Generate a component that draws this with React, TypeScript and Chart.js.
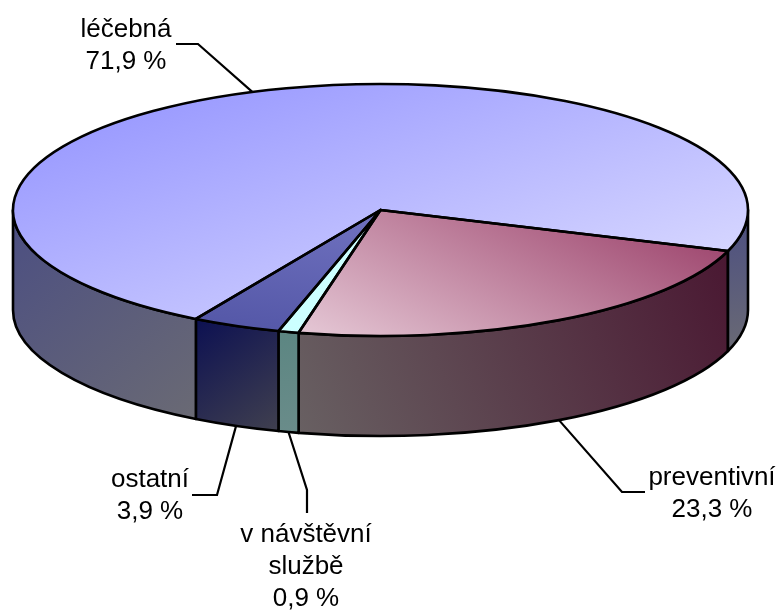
import React, { useEffect, useRef } from "react";
import { Chart, registerables } from "chart.js";

Chart.register(...registerables);

// ---- data ----
const categories = ["preventivní", "v návštěvní službě", "ostatní", "léčebná"];
const values = [23.3, 0.9, 3.9, 71.9];
const nameLines = [["preventivní"], ["v návštěvní", "službě"], ["ostatní"], ["léčebná"]];
const startRotation = 109; // degrees, chart.js rotation

// ---- geometry / style ----
const G = { cx: 380.5, cy: 210, rx: 367.5, ry: 126, depth: 100 };
const FONT = "26px 'Liberation Sans', Arial, sans-serif";
const LINE_H = 32;
const EDGE_W = 2.6;

const topStops = [
  ["#e4c6d4", "#9e466e"],
  ["#ccffff", "#ccffff"],
  ["#5558a8", "#6e70be"],
  ["#9797ff", "#e0e0ff"],
];
const topGradPts = [
  [310, 335, 722, 240],
  [280, 330, 380, 210],
  [200, 320, 330, 215],
  [90, 100, 720, 320],
];
const wallStops = [
  ["#686062", "#4a1832"],
  ["#5c8682", "#6a8c8a"],
  ["#0c1052", "#40404f"],
  ["#4b4e82", "#6a6a74"],
];
// 1: bottom-left -> top-right, 0: top-left -> bottom-right
const wallDir = [1, 0, 0, 0];

const labelLayout = [
  { tx: 712, base: 485, elbow: [622, 492], end: [645, 492] },
  { tx: 306, base: 542, elbow: [307, 490], end: [307, 513] },
  { tx: 150, base: 487, elbow: [217, 495], end: [192, 495] },
  { tx: 126, base: 37, elbow: [198, 44], end: [176, 44] },
];

const fmt = (v: number) => v.toFixed(1).replace(".", ",") + " %";

function pt(t: number, dy = 0): [number, number] {
  return [G.cx + G.rx * Math.cos(t), G.cy + G.ry * Math.sin(t) + dy];
}

function topFill(c: any) {
  const chart = c.chart;
  const ca = chart.chartArea;
  const i = c.dataIndex;
  if (!ca) return topStops[i][0];
  const ax = (ca.left + ca.right) / 2;
  const ay = (ca.top + ca.bottom) / 2;
  const r = Math.min(ca.right - ca.left, ca.bottom - ca.top) / 2;
  const map = (X: number, Y: number) => [ax + ((X - G.cx) * r) / G.rx, ay + ((Y - G.cy) * r) / G.ry];
  const [x0, y0, x1, y1] = topGradPts[i];
  const p0 = map(x0, y0);
  const p1 = map(x1, y1);
  const g = chart.ctx.createLinearGradient(p0[0], p0[1], p1[0], p1[1]);
  g.addColorStop(0, topStops[i][0]);
  g.addColorStop(1, topStops[i][1]);
  return g;
}

function drawWall(ctx: CanvasRenderingContext2D, a: number, b: number, i: number) {
  const [xa, ya] = pt(a);
  const [xb, yb] = pt(b);
  ctx.beginPath();
  ctx.ellipse(G.cx, G.cy, G.rx, G.ry, 0, a, b);
  ctx.lineTo(xb, yb + G.depth);
  ctx.ellipse(G.cx, G.cy + G.depth, G.rx, G.ry, 0, b, a, true);
  ctx.closePath();
  const minX = Math.min(xa, xb);
  const maxX = Math.max(xa, xb);
  const topY = Math.min(ya, yb);
  const botY = Math.max(ya, yb) + G.depth;
  const g =
    wallDir[i] === 1
      ? ctx.createLinearGradient(minX, botY, maxX, topY)
      : ctx.createLinearGradient(minX, topY, maxX, botY);
  g.addColorStop(0, wallStops[i][0]);
  g.addColorStop(1, wallStops[i][1]);
  ctx.fillStyle = g;
  ctx.fill();
  ctx.lineWidth = EDGE_W;
  ctx.strokeStyle = "#000";
  ctx.lineJoin = "round";
  ctx.stroke();
}

const pie3d = {
  id: "pie3d",
  beforeDatasetsDraw(chart: any) {
    const ctx: CanvasRenderingContext2D = chart.ctx;
    const arcs = chart.getDatasetMeta(0).data;
    arcs.forEach((el: any, i: number) => {
      const s = el.startAngle;
      const e = el.endAngle;
      for (let k = -1; k <= 1; k++) {
        const a = Math.max(s, 2 * Math.PI * k);
        const b = Math.min(e, 2 * Math.PI * k + Math.PI);
        if (b > a) drawWall(ctx, a, b, i);
      }
    });
    const a0 = arcs[0];
    ctx.save();
    ctx.translate(G.cx, G.cy);
    ctx.scale(G.rx / a0.outerRadius, G.ry / a0.outerRadius);
    ctx.translate(-a0.x, -a0.y);
  },
  afterDatasetsDraw(chart: any) {
    const ctx: CanvasRenderingContext2D = chart.ctx;
    ctx.restore();
    const arcs = chart.getDatasetMeta(0).data;
    ctx.save();
    ctx.lineWidth = EDGE_W;
    ctx.strokeStyle = "#000";
    ctx.lineJoin = "round";
    arcs.forEach((el: any) => {
      const s = el.startAngle;
      const e = el.endAngle;
      const [xs, ys] = pt(s);
      ctx.beginPath();
      ctx.moveTo(G.cx, G.cy);
      ctx.lineTo(xs, ys);
      ctx.ellipse(G.cx, G.cy, G.rx, G.ry, 0, s, e);
      ctx.closePath();
      ctx.stroke();
    });
    // labels
    ctx.font = FONT;
    ctx.fillStyle = "#000";
    ctx.textAlign = "center";
    ctx.textBaseline = "alphabetic";
    ctx.lineWidth = 2.2;
    arcs.forEach((el: any, i: number) => {
      const mid = (el.startAngle + el.endAngle) / 2;
      let [x, y] = pt(mid);
      if (Math.sin(mid) > 0) y += G.depth;
      const L = labelLayout[i];
      ctx.beginPath();
      ctx.moveTo(x, y);
      ctx.lineTo(L.elbow[0], L.elbow[1]);
      ctx.lineTo(L.end[0], L.end[1]);
      ctx.lineJoin = "miter";
      ctx.stroke();
      const lines = [...nameLines[i], fmt(values[i])];
      lines.forEach((t, j) => ctx.fillText(t, L.tx, L.base + j * LINE_H));
    });
    ctx.restore();
  },
};

export default function App() {
  const ref = useRef<HTMLCanvasElement>(null);
  useEffect(() => {
    const chart = new Chart(ref.current as HTMLCanvasElement, {
      type: "pie",
      data: {
        labels: categories,
        datasets: [
          {
            data: values,
            backgroundColor: (c: any) => topFill(c),
            borderWidth: 0,
            hoverOffset: 0,
            clip: false as any,
          } as any,
        ],
      },
      options: {
        responsive: false,
        animation: false,
        events: [],
        rotation: startRotation,
        layout: { padding: 0 },
        plugins: { legend: { display: false }, tooltip: { enabled: false } },
      } as any,
      plugins: [pie3d as any],
    });
    return () => chart.destroy();
  }, []);
  return (
    <div style={{ position: "absolute", left: 0, top: 0, width: 782, height: 611, background: "#fff" }}>
      <canvas ref={ref} width={782} height={611} style={{ display: "block" }} />
    </div>
  );
}
